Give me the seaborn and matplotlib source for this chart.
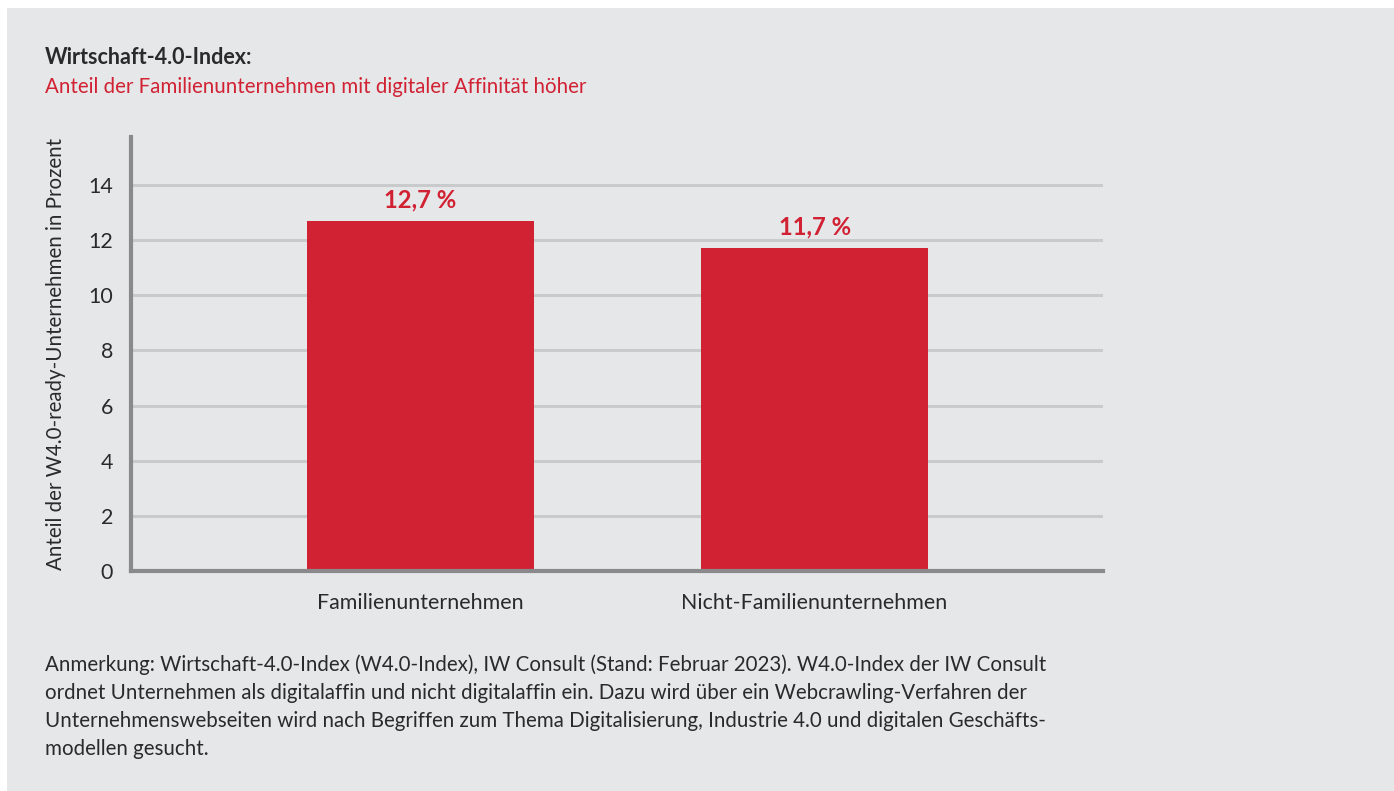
import numpy as np
import pandas as pd
import matplotlib.pyplot as plt
import seaborn as sns
from matplotlib.patches import Rectangle

# Daten
kategorien = ['Familienunternehmen', 'Nicht-Familienunternehmen']
anteile = [12.7, 11.7]
y_ticks = [0, 2, 4, 6, 8, 10, 12, 14]

titel = 'Wirtschaft-4.0-Index:'
untertitel = 'Anteil der Familienunternehmen mit digitaler Affinität höher'
y_label = 'Anteil der W4.0-ready-Unternehmen in Prozent'
anmerkung = ['Anmerkung: Wirtschaft-4.0-Index (W4.0-Index), IW Consult (Stand: Februar 2023). W4.0-Index der IW Consult',
             'ordnet Unternehmen als digitalaffin und nicht digitalaffin ein. Dazu wird über ein Webcrawling-Verfahren der',
             'Unternehmenswebseiten wird nach Begriffen zum Thema Digitalisierung, Industrie 4.0 und digitalen Geschäfts-',
             'modellen gesucht.']

rot = '#d12234'
grau_bg = '#e6e7e9'
text_farbe = '#2a2a2c'
fs = 14.8

sns.set_style('white')
plt.rcParams['font.family'] = ['Lato', 'DejaVu Sans']

df = pd.DataFrame({'kategorie': kategorien, 'anteil': anteile})

W, H = 1394, 791
fig = plt.figure(figsize=(W / 100, H / 100), dpi=100, facecolor='white')
fig.patches.append(Rectangle((7 / W, 0), 1 - 7 / W, 1 - 8 / H, transform=fig.transFigure,
                             facecolor=grau_bg, edgecolor='none', zorder=-10))

ax = fig.add_axes([131 / W, 1 - 571 / H, (1103 - 131) / W, (571 - 137) / H])
ax.set_facecolor(grau_bg)

sns.barplot(data=df, x='kategorie', y='anteil', color=rot, saturation=1,
            width=0.576, linewidth=0, ax=ax, zorder=3)

ax.set_xlim(-0.735, 1.732)
ax.set_ylim(0, 15.74)
ax.set_yticks(y_ticks)
for t in y_ticks[1:]:
    ax.axhline(t, color='#c9cacc', linewidth=2.2, zorder=1)

for s in ['top', 'right']:
    ax.spines[s].set_visible(False)
for s in ['left', 'bottom']:
    ax.spines[s].set_color('#8a8a8c')
    ax.spines[s].set_linewidth(3)
    ax.spines[s].set_zorder(5)

ax.tick_params(axis='both', length=0, labelsize=fs + 0.6, labelcolor=text_farbe)
ax.tick_params(axis='y', pad=13)
ax.tick_params(axis='x', pad=16)
ax.set_xlabel('')
ax.set_ylabel(y_label, fontsize=fs, color=text_farbe, labelpad=16)

ax.bar_label(ax.containers[0], labels=[f'{v:.1f} %'.replace('.', ',') for v in anteile],
             padding=7, color=rot, fontsize=17.2, fontweight='bold')

fig.text(45 / W, 1 - 58 / H, titel, fontsize=15.5, fontweight='bold', color=text_farbe, va='center')
fig.text(45 / W, 1 - 87 / H, untertitel, fontsize=fs, color=rot, va='center')
for i, zeile in enumerate(anmerkung):
    fig.text(45 / W, 1 - (665 + 28 * i) / H, zeile, fontsize=fs, color=text_farbe, va='center')

fig.savefig('out.png', dpi=100, facecolor='white')
